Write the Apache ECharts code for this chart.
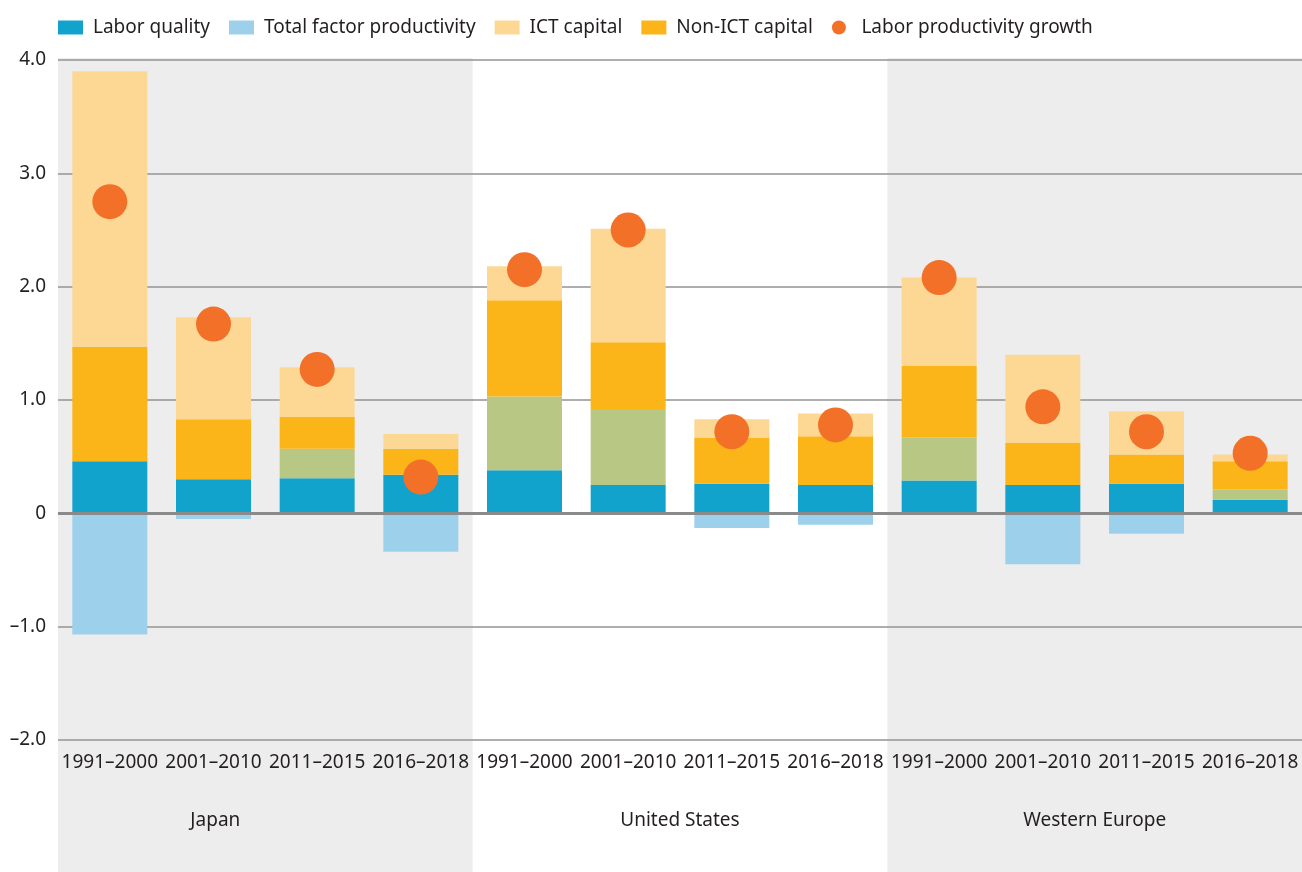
<!DOCTYPE html>
<html>
<head>
<meta charset="utf-8">
<script src="https://cdn.jsdelivr.net/npm/echarts@6/dist/echarts.min.js"></script>
<style>
  html, body { margin: 0; padding: 0; background: #ffffff; }
  #chart { width: 1302px; height: 872px; }
</style>
</head>
<body>
<div id="chart"></div>
<script>
const periods = ['1991–2000', '2001–2010', '2011–2015', '2016–2018'];
const regions = ['Japan', 'United States', 'Western Europe'];
const shadedRegions = [0, 2];

const laborQuality = [0.46, 0.30, 0.31, 0.34, 0.38, 0.25, 0.26, 0.25, 0.29, 0.25, 0.26, 0.12];
const tfp          = [-1.07, -0.05, 0.26, -0.34, 0.65, 0.67, -0.13, -0.10, 0.38, -0.45, -0.18, 0.09];
const nonIctCapital = [1.01, 0.53, 0.28, 0.23, 0.85, 0.59, 0.41, 0.43, 0.63, 0.37, 0.26, 0.25];
const ictCapital   = [2.43, 0.90, 0.44, 0.13, 0.30, 1.00, 0.16, 0.20, 0.78, 0.78, 0.38, 0.06];
const laborProductivityGrowth = [2.75, 1.67, 1.27, 0.32, 2.15, 2.50, 0.72, 0.78, 2.08, 0.94, 0.72, 0.53];

const yTicks = { min: -2, max: 4, interval: 1 };

const FONT = 'Noto Sans';
const FS = 19;
const TEXT = '#231f20';
const C_LQ = '#12a3cc', C_TFP = '#9dd0eb', C_TFP_POS = '#b9c785',
      C_ICT = '#fdd895', C_NONICT = '#fbb518', C_DOT = '#f37029', C_BG = '#ededed';

const categories = [];
regions.forEach(() => periods.forEach(p => categories.push(p)));

const chart = echarts.init(document.getElementById('chart'), null, { renderer: 'canvas' });

const barBase = { type: 'bar', stack: 'total', barWidth: 75, xAxisIndex: 0, yAxisIndex: 0 };

const option = {
  backgroundColor: '#ffffff',
  animation: false,
  textStyle: { fontFamily: FONT, color: TEXT },
  legend: {
    left: 58, top: 18, padding: 0,
    itemWidth: 25, itemHeight: 14, itemGap: 19,
    textStyle: { fontFamily: FONT, fontSize: FS, color: TEXT, padding: [0, 0, 0, 5] },
    data: [
      { name: 'Labor quality', icon: 'rect' },
      { name: 'Total factor productivity', icon: 'rect' },
      { name: 'ICT capital', icon: 'rect' },
      { name: 'Non-ICT capital', icon: 'rect' },
      { name: 'Labor productivity growth', icon: 'circle' }
    ]
  },
  grid: { left: 58, right: 0, top: 60, bottom: 132, containLabel: false },
  xAxis: [
    {
      type: 'category', data: categories, position: 'bottom',
      axisLine: { show: false }, axisTick: { show: false },
      axisLabel: { interval: 0, margin: 13, fontSize: FS, color: TEXT, fontFamily: FONT }
    },
    {
      type: 'category', data: [
        { value: regions[0], textStyle: { padding: [0, 100, 0, 0] } },
        regions[1], regions[2]
      ],
      position: 'bottom', offset: 57,
      axisLine: { show: false }, axisTick: { show: false }, splitLine: { show: false },
      axisLabel: { interval: 0, margin: 14, fontSize: FS, color: TEXT, fontFamily: FONT }
    }
  ],
  yAxis: {
    type: 'value', min: yTicks.min, max: yTicks.max, interval: yTicks.interval,
    axisLine: { show: false }, axisTick: { show: false },
    splitLine: { show: true, lineStyle: { color: '#939393', width: 1.5 } },
    axisLabel: {
      margin: 12, fontSize: FS, color: TEXT, fontFamily: FONT,
      formatter: v => v === 0 ? '0' : (v < 0 ? '–' + Math.abs(v).toFixed(1) : v.toFixed(1))
    }
  },
  series: [
    Object.assign({}, barBase, { name: 'Labor quality', data: laborQuality, itemStyle: { color: C_LQ } }),
    Object.assign({}, barBase, {
      name: 'Total factor productivity', itemStyle: { color: C_TFP },
      data: tfp.map(v => ({ value: v, itemStyle: { color: v >= 0 ? C_TFP_POS : C_TFP } }))
    }),
    Object.assign({}, barBase, { name: 'Non-ICT capital', data: nonIctCapital, itemStyle: { color: C_NONICT } }),
    Object.assign({}, barBase, { name: 'ICT capital', data: ictCapital, itemStyle: { color: C_ICT } }),
    {
      name: 'Labor productivity growth', type: 'scatter', xAxisIndex: 0, yAxisIndex: 0,
      data: laborProductivityGrowth, symbol: 'circle', symbolSize: 35, z: 5,
      itemStyle: { color: C_DOT, opacity: 1 },
      markLine: {
        silent: true, symbol: ['none', 'none'], label: { show: false },
        lineStyle: { color: '#8a8a8a', width: 3, type: 'solid' },
        data: [{ yAxis: 0 }]
      }
    }
  ]
};

chart.setOption(option);

const c0 = chart.convertToPixel({ xAxisIndex: 0 }, 0);
const c1 = chart.convertToPixel({ xAxisIndex: 0 }, 1);
const half = (c1 - c0) / 2;
const n = periods.length;
const bands = shadedRegions.map(r => {
  const left = chart.convertToPixel({ xAxisIndex: 0 }, r * n) - half;
  const right = chart.convertToPixel({ xAxisIndex: 0 }, r * n + n - 1) + half;
  return {
    type: 'rect', z: -10, silent: true,
    shape: { x: left, y: 58, width: right - left, height: 872 - 58 },
    style: { fill: C_BG }
  };
});
chart.setOption({ graphic: { elements: bands } });
</script>
</body>
</html>
